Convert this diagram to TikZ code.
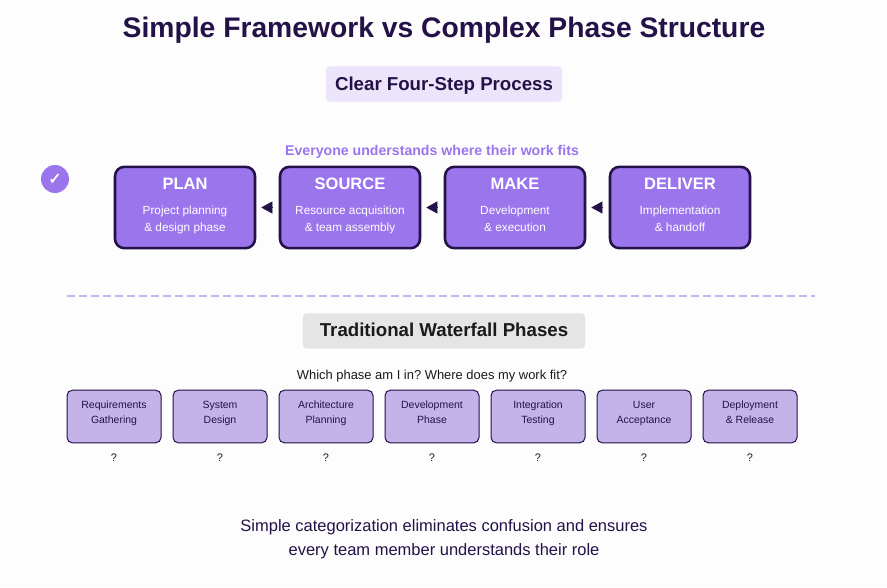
\documentclass[tikz,border=0pt]{standalone}
\usepackage{fontspec}
\setmainfont{Liberation Sans}
\newfontface\tickfont[FakeBold=1.5]{DejaVu Sans}
\usetikzlibrary{arrows.meta}
\frenchspacing

\definecolor{inkdark}{HTML}{231147}
\definecolor{stepfill}{HTML}{9B75EC}
\definecolor{phasefill}{HTML}{C4B3E9}
\definecolor{headfill}{HTML}{EBE4FA}
\definecolor{greyfill}{HTML}{E5E5E5}
\definecolor{inkblack}{HTML}{1A1A1A}
\definecolor{pagefill}{HTML}{FDFDFE}

\tikzset{
  stepbox/.style={draw=inkdark,fill=stepfill,line width=1.9pt,rounded corners=7pt,
    minimum width=105pt,minimum height=61pt,inner sep=0pt},
  phasebox/.style={draw=inkdark,fill=phasefill,line width=0.75pt,rounded corners=4pt,
    minimum width=70.5pt,minimum height=39.5pt,inner sep=0pt},
  steptitle/.style={text=white,font=\fontsize{12.4}{15}\selectfont\bfseries,inner sep=0pt},
  steptext/.style={text=white,font=\fontsize{8.85}{12.9}\selectfont,align=center,inner sep=0pt,
    execute at begin node=\strut,execute at end node=\strut},
  phasetext/.style={text=inkdark,font=\fontsize{7.85}{11.3}\selectfont,align=center,inner sep=0pt,
    execute at begin node=\strut,execute at end node=\strut},
  query/.style={text=inkblack,font=\fontsize{8.2}{10}\selectfont,inner sep=0pt},
  stepflow/.style={draw=inkdark,line width=0.2pt,-{Triangle[length=8.2pt,width=9pt,fill=inkdark]},shorten >=3.8pt,shorten <=4.6pt},
}

\begin{document}
\begin{tikzpicture}[x=0.75pt,y=-0.75pt]
\fill[pagefill] (0,0) rectangle (887,587);
\useasboundingbox (0,0) rectangle (887,587);

% Headings of the upper half.
\node[text=inkdark,font=\fontsize{21.2}{26}\selectfont\bfseries] (maintitle) at (444,30.5) {Simple Framework vs Complex Phase Structure};
\node[fill=headfill,rounded corners=3pt,minimum width=177pt,minimum height=26.5pt,inner sep=0pt,
  text height=12.2pt,text=inkdark,font=\fontsize{14}{17}\selectfont\bfseries] (cleartitle) at (444,84) {Clear Four-Step Process};
\node[text=stepfill,font=\fontsize{10.6}{13}\selectfont\bfseries] (everyone) at (432,151.5) {Everyone understands where their work fits};

% Check mark.
\node[circle,fill=stepfill,minimum size=21pt,inner sep=0pt,text=white,font=\tickfont\fontsize{12}{14}\selectfont] (tick) at (55,179) {✓};

% Four steps.
\node[stepbox] (plan) at (185,207.5) {};
\node[stepbox] (source) at (350,207.5) {};
\node[stepbox] (make) at (515,207.5) {};
\node[stepbox] (deliver) at (680,207.5) {};

\node[steptitle] (plantitle) at (185,184) {PLAN};
\node[steptitle] (sourcetitle) at (350,184) {SOURCE};
\node[steptitle] (maketitle) at (515,184) {MAKE};
\node[steptitle] (delivertitle) at (680,184) {DELIVER};

\node[steptext] (plantext) at (185,221) {Project planning\\\& design phase};
\node[steptext] (sourcetext) at (350,221) {Resource acquisition\\\& team assembly};
\node[steptext] (maketext) at (515,221) {Development\\\& execution};
\node[steptext] (delivertext) at (680,221) {Implementation\\\& handoff};

\draw[stepflow] (source) -- (plan);
\draw[stepflow] (make) -- (source);
\draw[stepflow] (deliver) -- (make);

% Divider.
\coordinate (ruleleft) at (67,296);
\coordinate (ruleright) at (815,296);
\draw[draw=phasefill,line width=1.5pt,dash pattern=on 6pt off 3pt] (ruleleft) -- (ruleright);

% Headings of the lower half.
\node[fill=greyfill,rounded corners=3pt,minimum width=212pt,minimum height=26.5pt,inner sep=0pt,
  text depth=1.8pt,text=inkblack,font=\fontsize{14}{17}\selectfont\bfseries] (waterfall) at (444,331) {Traditional Waterfall Phases};
\node[text=inkblack,font=\fontsize{9.7}{12}\selectfont] (whichphase) at (432,376.5) {Which phase am I in? Where does my work fit?};

% Seven phases.
\node[phasebox] (reqs) at (114,416.5) {};
\node[phasebox] (design) at (220,416.5) {};
\node[phasebox] (arch) at (326,416.5) {};
\node[phasebox] (devel) at (432,416.5) {};
\node[phasebox] (testing) at (538,416.5) {};
\node[phasebox] (accept) at (644,416.5) {};
\node[phasebox] (deploy) at (750,416.5) {};

\node[phasetext] (reqstext) at (114,414.5) {Requirements\\Gathering};
\node[phasetext] (designtext) at (220,414.5) {System\\Design};
\node[phasetext] (archtext) at (326,414.5) {Architecture\\Planning};
\node[phasetext] (develtext) at (432,414.5) {Development\\Phase};
\node[phasetext] (testingtext) at (538,414.5) {Integration\\Testing};
\node[phasetext] (accepttext) at (644,414.5) {User\\Acceptance};
\node[phasetext] (deploytext) at (750,414.5) {Deployment\\\& Release};

\node[query] (reqsq) at (114,457.5) {?};
\node[query] (designq) at (220,457.5) {?};
\node[query] (archq) at (326,457.5) {?};
\node[query] (develq) at (432,457.5) {?};
\node[query] (testingq) at (538,457.5) {?};
\node[query] (acceptq) at (644,457.5) {?};
\node[query] (deployq) at (750,457.5) {?};

% Closing remark.
\node[text=inkdark,font=\fontsize{12.37}{18}\selectfont,align=center] (closing) at (444,539.2) {Simple categorization eliminates confusion and ensures\\every team member understands their role};
\end{tikzpicture}
\end{document}
